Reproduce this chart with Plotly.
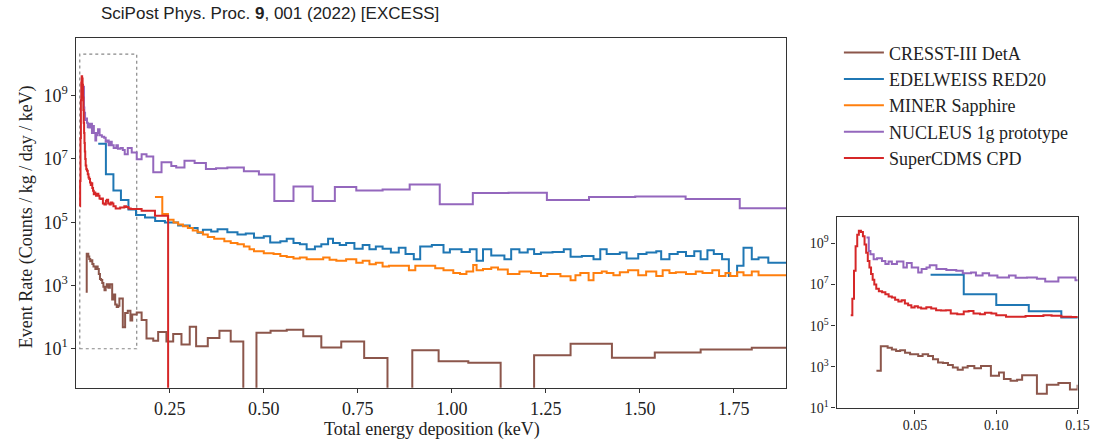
import plotly.graph_objects as go

# ---------------- data (bin left edges + final right edge; rates in counts/kg/day/keV) -------------
X_END = 1.90
FLOOR = 1e-3  # used to draw empty (zero) bins below the axis

names = ["CRESST-III DetA", "EDELWEISS RED20", "MINER Sapphire",
         "NUCLEUS 1g prototype", "SuperCDMS CPD"]
colors = ["#8c564b", "#1f77b4", "#ff7f0e", "#9467bd", "#d62728"]

cresst_x = [0.0263, 0.0290, 0.0332, 0.0358, 0.0384, 0.0409, 0.0439, 0.0470, 0.0520, 0.0547,
            0.0581, 0.0611, 0.0642, 0.0672, 0.0703, 0.0733, 0.0763, 0.0794, 0.0824, 0.0865,
            0.0906, 0.0967, 0.1017, 0.1047, 0.1088, 0.1128, 0.1159, 0.1250, 0.1311, 0.1382,
            0.1453, 0.150, 0.162, 0.175, 0.188, 0.206, 0.219, 0.241, 0.259, 0.281,
            0.303, 0.320, 0.351, 0.382, 0.412, 0.4455, 0.4805, 0.518, 0.561, 0.605,
            0.653, 0.706, 0.767, 0.829, 0.895, 0.965, 1.044, 1.130, 1.219, 1.316,
            1.426, 1.540, 1.662, 1.798, X_END]
cresst_y = [630, 1.0e4, 8.3e3, 6.9e3, 5.8e3, 6.3e3, 4.8e3, 4.0e3, 3.3e3, 4.0e3,
            3.3e3, 2.3e3, 1.6e3, 1.5e3, 1.2e3, 910, 710, 910, 1.1e3, 850,
            1.1e3, 360, 520, 250, 210, 230, 390, 48, 135, 160,
            78, 120, 140, 81, 21, 18, 34, 17, 29, 13.5,
            50, 12, 22, 37, 17, 0, 32, 37, 40, 25,
            11, 17, 5.1, 0, 8.9, 4.0, 3.6, 0, 6.2, 14.5,
            5.2, 7.6, 9.5, 10.7]

edelweiss_x = [0.0596, 0.080, 0.100, 0.120, 0.140, 0.160, 0.184, 0.211, 0.237, 0.272,
               0.303, 0.324, 0.338, 0.360, 0.377, 0.403, 0.430, 0.452, 0.474, 0.500,
               0.517, 0.544, 0.561, 0.579, 0.596, 0.614, 0.636, 0.653, 0.671, 0.684,
               0.702, 0.719, 0.741, 0.763, 0.781, 0.798, 0.816, 0.838, 0.859, 0.877,
               0.899, 0.916, 0.947, 0.978, 0.995, 1.026, 1.048, 1.066, 1.083, 1.105,
               1.140, 1.158, 1.180, 1.202, 1.219, 1.237, 1.268, 1.298, 1.316, 1.346,
               1.377, 1.395, 1.412, 1.447, 1.465, 1.496, 1.518, 1.544, 1.557, 1.579,
               1.601, 1.623, 1.645, 1.662, 1.680, 1.697, 1.719, 1.737, 1.759, 1.776,
               1.798, 1.816, 1.842, X_END]
edelweiss_y = [3.0e7, 3.3e6, 1.0e6, 5.0e5, 2.5e5, 1.7e5, 1.4e5, 1.1e5, 9.8e4, 7.8e4,
               6.5e4, 4.6e4, 5.8e4, 5.1e4, 6.0e4, 4.8e4, 4.1e4, 4.4e4, 3.2e4, 3.6e4,
               2.3e4, 2.5e4, 3.0e4, 2.2e4, 2.0e4, 1.4e4, 1.7e4, 2.0e4, 3.0e4, 2.2e4,
               1.9e4, 2.2e4, 1.45e4, 1.9e4, 1.4e4, 1.7e4, 1.45e4, 1.1e4, 1.55e4, 9.8e3,
               6.8e3, 1.7e4, 1.9e4, 1.1e4, 1.4e4, 1.15e4, 1.4e4, 6.0e3, 1.4e4, 8.9e3,
               6.8e3, 1.4e4, 1.1e4, 1.4e4, 9.8e3, 1.1e4, 1.15e4, 1.4e4, 8.1e3, 8.5e3,
               6.8e3, 1.4e4, 9.8e3, 1.1e4, 7.1e3, 9.8e3, 1.1e4, 1.2e4, 6.8e3, 9.8e3,
               1.15e4, 8.5e3, 1.2e4, 6.8e3, 1.3e4, 9.8e3, 6.8e3, 2.0e3, 4.2e3, 1.55e4,
               6.8e3, 7.6e3, 5.2e3]

miner_x = [0.2105, 0.230, 0.245, 0.260, 0.272, 0.285, 0.298, 0.311, 0.324, 0.338,
           0.351, 0.368, 0.395, 0.412, 0.430, 0.447, 0.462, 0.474, 0.500, 0.526,
           0.544, 0.561, 0.579, 0.596, 0.614, 0.658, 0.675, 0.693, 0.719, 0.746,
           0.763, 0.781, 0.798, 0.816, 0.833, 0.886, 0.903, 0.956, 0.978, 1.004,
           1.022, 1.039, 1.057, 1.066, 1.083, 1.105, 1.123, 1.149, 1.180, 1.211,
           1.237, 1.254, 1.289, 1.316, 1.329, 1.342, 1.364, 1.377, 1.399, 1.412,
           1.430, 1.447, 1.469, 1.496, 1.517, 1.544, 1.561, 1.579, 1.596, 1.623,
           1.649, 1.667, 1.693, 1.711, 1.728, 1.741, 1.759, 1.776, 1.798, 1.816, X_END]
miner_y = [6.3e5, 1.8e5, 1.2e5, 9.8e4, 8.5e4, 7.4e4, 6.5e4, 5.5e4, 4.8e4, 4.1e4,
           3.4e4, 3.0e4, 2.5e4, 2.2e4, 2.0e4, 1.7e4, 1.4e4, 1.2e4, 1.05e4, 9.8e3,
           8.5e3, 7.9e3, 7.1e3, 7.6e3, 6.8e3, 7.6e3, 6.5e3, 6.0e3, 6.8e3, 5.2e3,
           6.0e3, 4.7e3, 5.2e3, 4.0e3, 4.2e3, 3.0e3, 4.2e3, 3.5e3, 3.0e3, 2.5e3,
           2.3e3, 2.75e3, 4.4e3, 3.0e3, 3.3e3, 3.7e3, 3.2e3, 2.3e3, 2.75e3, 2.5e3,
           2.0e3, 2.3e3, 1.95e3, 1.45e3, 2.1e3, 2.5e3, 1.45e3, 2.5e3, 2.75e3, 2.5e3,
           2.1e3, 2.6e3, 3.0e3, 2.1e3, 2.75e3, 2.0e3, 3.0e3, 2.5e3, 2.6e3, 2.3e3,
           2.75e3, 2.5e3, 3.0e3, 2.0e3, 2.5e3, 2.0e3, 2.6e3, 2.1e3, 2.75e3, 2.1e3]

nucleus_x = [0.0202, 0.0216, 0.0226, 0.0246, 0.0267, 0.0297, 0.0318, 0.0338, 0.0358, 0.0389,
             0.0429, 0.0450, 0.0480, 0.0520, 0.0541, 0.0571, 0.0591, 0.0632, 0.0693, 0.0754,
             0.0794, 0.0845, 0.0875, 0.0916, 0.0956, 0.1007, 0.1078, 0.1119, 0.1189, 0.1250,
             0.1301, 0.1382, 0.1443, 0.1487, 0.162, 0.175, 0.188, 0.206, 0.228, 0.254,
             0.267, 0.289, 0.316, 0.346, 0.373, 0.403, 0.447, 0.487, 0.528, 0.579,
             0.630, 0.689, 0.746, 0.816, 0.888, 0.968, 1.056, 1.151, 1.253, 1.365,
             1.488, 1.622, 1.766, X_END]
nucleus_y = [1.9e9, 4.2e8, 2.9e8, 1.7e8, 1.9e8, 1.4e8, 1.0e8, 1.3e8, 9.8e7, 1.3e8,
             6.6e7, 1.1e8, 6.6e7, 3.8e7, 5.6e7, 6.6e7, 8.7e7, 5.6e7, 5.0e7, 4.7e7,
             3.5e7, 3.8e7, 2.7e7, 3.5e7, 2.7e7, 2.2e7, 2.7e7, 2.1e7, 2.2e7, 1.9e7,
             1.4e7, 2.2e7, 2.2e7, 1.6e7, 9.8e6, 1.4e7, 1.2e7, 3.8e6, 7.8e6, 6.0e6,
             5.4e6, 8.7e6, 7.4e6, 4.8e6, 5.1e6, 5.4e6, 4.1e6, 3.2e6, 4.7e5, 1.35e6,
             4.7e5, 1.3e6, 1.0e6, 1.07e6, 1.55e6, 3.7e5, 8.3e5, 8.5e5, 5.0e5, 6.3e5,
             6.5e5, 5.4e5, 2.75e5]

supercdms_x = [0.0105, 0.0115, 0.0125, 0.0135, 0.0145, 0.0155, 0.0168, 0.0180, 0.0190, 0.0200,
               0.0210, 0.0220, 0.0230, 0.0240, 0.0250, 0.0262, 0.0278, 0.0298, 0.0318, 0.0338,
               0.0358, 0.0378, 0.0398, 0.0418, 0.0438, 0.0458, 0.0478, 0.0498, 0.0518, 0.0538,
               0.0570, 0.0600, 0.0630, 0.0660, 0.0690, 0.0720, 0.0760, 0.0800, 0.0830, 0.0860,
               0.0900, 0.0930, 0.0970, 0.1000, 0.1060, 0.1120, 0.1180, 0.1240, 0.1290, 0.1340,
               0.1400, 0.1460, 0.175, 0.2105, 0.2455, X_END]
supercdms_y = [3.2e5, 2.0e6, 4.6e7, 7.2e8, 2.6e9, 4.1e9, 3.5e9, 2.2e9, 8.7e8, 3.5e8,
               1.4e8, 6.6e7, 3.2e7, 1.7e7, 1.0e7, 6.2e6, 4.7e6, 4.2e6, 3.3e6, 2.6e6,
               2.3e6, 1.8e6, 1.5e6, 1.7e6, 1.2e6, 9.8e5, 7.6e5, 8.7e5, 7.6e5, 6.8e5,
               7.9e5, 6.8e5, 5.6e5, 5.4e5, 5.6e5, 3.9e5, 3.6e5, 4.8e5, 5.1e5, 3.9e5,
               3.6e5, 4.2e5, 3.9e5, 3.2e5, 2.7e5, 2.7e5, 2.9e5, 2.9e5, 3.2e5, 3.0e5,
               2.7e5, 2.6e5, 2.3e5, 1.6e5, 0]

series_x = [cresst_x, edelweiss_x, miner_x, nucleus_x, supercdms_x]
series_y = [cresst_y, edelweiss_y, miner_y, nucleus_y, supercdms_y]

# zoom box drawn on main axes (keV, rate)
zoom_box_x = [0.0105, 0.162]
zoom_box_y = [10, 2.05e10]

main_xticks = [0.25, 0.50, 0.75, 1.00, 1.25, 1.50, 1.75]
main_xtick_text = ["0.25", "0.50", "0.75", "1.00", "1.25", "1.50", "1.75"]
ytick_vals = [1e1, 1e3, 1e5, 1e7, 1e9]
ytick_text = ["10<sup>1</sup>", "10<sup>3</sup>", "10<sup>5</sup>", "10<sup>7</sup>", "10<sup>9</sup>"]
inset_xticks = [0.05, 0.10, 0.15]
inset_xtick_text = ["0.05", "0.10", "0.15"]

# ---------------- figure ----------------
SERIF = "Liberation Serif, Times New Roman, serif"
SANS = "Liberation Sans, Arial, sans-serif"
AX = "#333333"

fig = go.Figure()


def step_y(vals):
    ys = [v if v > 0 else FLOOR for v in vals]
    return ys + [ys[-1]]


for name, col, xs, ys in zip(names, colors, series_x, series_y):
    fig.add_trace(go.Scatter(x=xs, y=step_y(ys), mode="lines", name=name,
                             line=dict(color=col, width=2, shape="hv"),
                             legendgroup=name, xaxis="x", yaxis="y"))
for name, col, xs, ys in zip(names, colors, series_x, series_y):
    fig.add_trace(go.Scatter(x=xs, y=step_y(ys), mode="lines", name=name,
                             line=dict(color=col, width=2, shape="hv"),
                             legendgroup=name, showlegend=False, xaxis="x2", yaxis="y2"))

axis_common = dict(showline=True, mirror=True, linecolor=AX, linewidth=1.3,
                   ticks="outside", ticklen=4, tickcolor=AX, tickwidth=1,
                   showgrid=False, zeroline=False)

fig.update_layout(
    width=1118, height=447, autosize=False,
    margin=dict(l=0, r=0, t=0, b=0),
    paper_bgcolor="white", plot_bgcolor="white",
    font=dict(family=SERIF, size=18, color="#222222"),
    xaxis=dict(domain=[0.0691, 0.7111], range=[0.0016, 1.8903],
               tickvals=main_xticks, ticktext=main_xtick_text,
               tickfont=dict(size=18), anchor="y", **axis_common),
    yaxis=dict(domain=[0.1186, 0.9128], type="log", range=[-0.235, 10.81],
               tickvals=ytick_vals, ticktext=ytick_text,
               tickfont=dict(size=18), anchor="x", **axis_common),
    xaxis2=dict(domain=[0.7564, 0.9743], range=[0.0018, 0.15],
                tickvals=inset_xticks, ticktext=inset_xtick_text,
                tickfont=dict(size=14), anchor="y2", **axis_common),
    yaxis2=dict(domain=[0.0716, 0.5078], type="log", range=[0.97, 10.30],
                tickvals=ytick_vals, ticktext=ytick_text,
                tickfont=dict(size=14), anchor="x2", **axis_common),
    legend=dict(x=0.7585, y=0.922, xanchor="left", yanchor="top",
                font=dict(family=SERIF, size=18, color="#222222"),
                bgcolor="rgba(0,0,0,0)", borderwidth=0, tracegroupgap=0,
                itemwidth=40),
    showlegend=True,
)

fig.add_shape(type="rect", xref="x", yref="y",
              x0=zoom_box_x[0], x1=zoom_box_x[1], y0=zoom_box_y[0], y1=zoom_box_y[1],
              line=dict(color="#888888", width=1.2, dash="dot"), layer="below")

fig.add_annotation(text="Total energy deposition (keV)", xref="paper", yref="paper",
                   x=0.3909, y=0.0246, xanchor="center", yanchor="middle", showarrow=False,
                   font=dict(family=SERIF, size=18, color="#222222"))
fig.add_annotation(text="Event Rate (Counts / kg / day / keV)", xref="paper", yref="paper",
                   x=0.0242, y=0.5078, xanchor="center", yanchor="middle", textangle=-90,
                   showarrow=False, font=dict(family=SERIF, size=18, color="#222222"))
fig.add_annotation(text="SciPost Phys. Proc. <b>9</b>, 001 (2022) [EXCESS]", xref="paper",
                   yref="paper", x=0.0894, y=0.9687, xanchor="left", yanchor="middle",
                   showarrow=False, font=dict(family=SANS, size=17, color="#222222"))

fig.write_html("out.html")
